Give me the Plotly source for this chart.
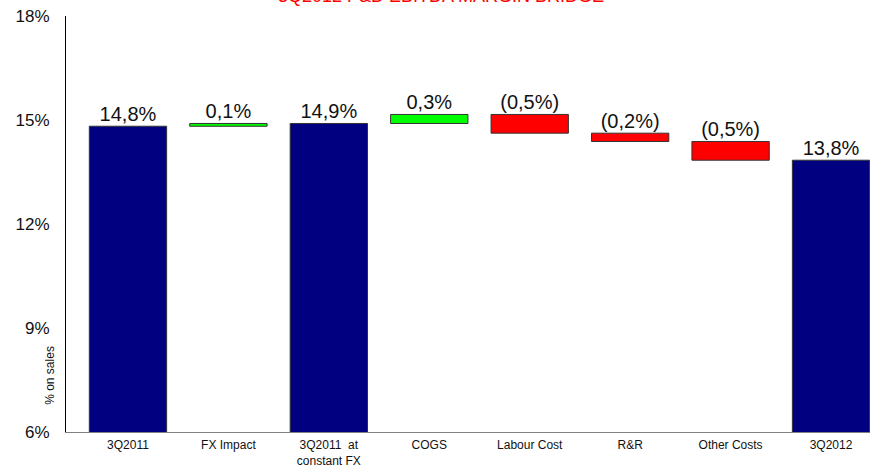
import plotly.graph_objects as go

# EBITDA margin bridge, % on sales
categories = ["3Q2011", "FX Impact", "3Q2011  at<br>constant FX", "COGS",
              "Labour Cost", "R&R", "Other Costs", "3Q2012"]
measures = ["absolute", "relative", "total", "relative",
            "relative", "relative", "relative", "total"]
values = [14.82, 0.08, None, 0.26, -0.54, -0.24, -0.54, None]
y_ticks = [6, 9, 12, 15, 18]
y_tick_labels = ["6%", "9%", "12%", "15%", "18%"]

NAVY = "#000080"
GREEN = "#00FF00"
RED = "#FF0000"

# resolve bases/heights of each bar from the running total
bases, heights, colors, labels, tops = [], [], [], [], []
running = 0.0
for m, v in zip(measures, values):
    if m == "absolute":
        running = v
        base, h, c = 0.0, v, NAVY
        shown = v
    elif m == "total":
        base, h, c = 0.0, running, NAVY
        shown = running
    else:
        base, h = running, v
        c = GREEN if v >= 0 else RED
        running += v
        shown = v
    bases.append(base)
    heights.append(h)
    colors.append(c)
    txt = f"{abs(shown):.1f}".replace(".", ",") + "%"
    labels.append(f"({txt})" if shown < 0 else txt)
    tops.append(max(base, base + h))

x = list(range(len(categories)))

fig = go.Figure()
fig.add_trace(go.Bar(
    x=x, y=heights, base=bases, width=0.77,
    marker=dict(color=colors, line=dict(color="#333333", width=1)),
    hoverinfo="skip", showlegend=False,
))
fig.add_trace(go.Scatter(
    x=x, y=tops, mode="text", text=labels, textposition="top center",
    textfont=dict(family="Liberation Sans, Arial", size=20, color="#111111"),
    cliponaxis=False, showlegend=False, hoverinfo="skip",
))

fig.update_layout(
    width=874, height=472,
    margin=dict(l=66, r=4, t=16, b=40),
    paper_bgcolor="white", plot_bgcolor="white",
    font=dict(family="Liberation Sans, Arial", color="#111111"),
    xaxis=dict(
        range=[-0.617, 7.388], tickmode="array", tickvals=x, ticktext=categories,
        showline=True, linecolor="#808080", linewidth=1, ticks="",
        ticklabelstandoff=2,
        showgrid=False, zeroline=False,
        tickfont=dict(family="Liberation Sans Narrow, Arial Narrow, Liberation Sans", size=12),
    ),
    yaxis=dict(
        range=[6, 18], tickmode="array", tickvals=y_ticks, ticktext=y_tick_labels,
        showline=True, linecolor="black", linewidth=1,
        ticks="outside", ticklen=12, tickcolor="white",
        showgrid=False, zeroline=False,
        tickfont=dict(size=17),
    ),
    annotations=[
        dict(text="% on sales", textangle=-90, xref="paper", yref="paper",
             x=-0.032, y=0.060, showarrow=False, font=dict(size=12)),
        dict(text="3Q2012 P&D EBITDA MARGIN BRIDGE", xref="paper", yref="paper",
             x=0.4664, y=1.019, yanchor="bottom", showarrow=False,
             font=dict(size=18, color=RED)),
    ],
)

fig.write_html("out.html")
